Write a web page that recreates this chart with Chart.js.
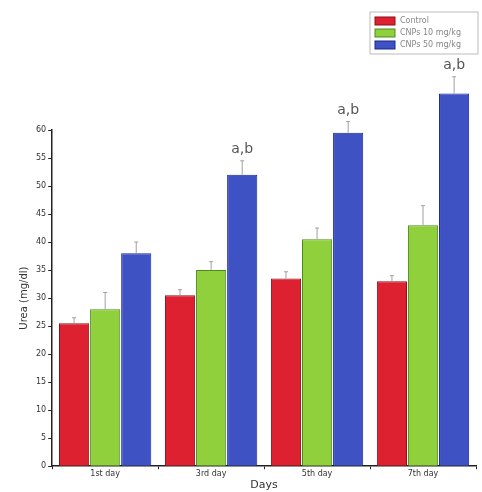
<!DOCTYPE html>
<html>
<head>
<meta charset="utf-8">
<script src="https://cdn.jsdelivr.net/npm/chart.js@4/dist/chart.umd.min.js"></script>
<style>
  html, body { margin: 0; padding: 0; background: #fff; }
  #wrap { width: 482px; height: 492px; }
</style>
</head>
<body>
<div id="wrap"><canvas id="myChart"></canvas></div>
<script>
const days = ['1st day', '3rd day', '5th day', '7th day'];
const control = [25.5, 30.5, 33.5, 33];
const fluid = [28, 35, 40.5, 43];
const fluidHigh = [38, 52, 59.5, 66.5];
const controlErr = [1, 1, 1.2, 1];
const fluidErr = [3, 1.5, 2, 3.5];
const fluidHighErr = [2, 2.5, 2, 3];
const sigMarks = ['', 'a,b', 'a,b', 'a,b'];
const yTicks = [0, 5, 10, 15, 20, 25, 30, 35, 40, 45, 50, 55, 60];

// error bars + significance letters, drawn on the library's scales
const extras = {
    id: 'extras',
    afterDatasetsDraw(chart) {
        const c = chart.ctx;
        const y = chart.scales.y;
        const errs = [controlErr, fluidErr, fluidHighErr];
        c.save();
        c.strokeStyle = '#a0a0a0';
        c.lineWidth = 1;
        chart.data.datasets.forEach((ds, i) => {
            chart.getDatasetMeta(i).data.forEach((bar, j) => {
                const top = y.getPixelForValue(ds.data[j] + errs[i][j]);
                c.beginPath();
                c.moveTo(bar.x, bar.y);
                c.lineTo(bar.x, top);
                c.moveTo(bar.x - 2, top);
                c.lineTo(bar.x + 2, top);
                c.stroke();
            });
        });
        c.fillStyle = '#555';
        c.font = '14px "DejaVu Sans"';
        c.textAlign = 'center';
        c.textBaseline = 'bottom';
        chart.getDatasetMeta(2).data.forEach((bar, j) => {
            if (!sigMarks[j]) return;
            const top = y.getPixelForValue(fluidHigh[j] + fluidHighErr[j]);
            c.fillText(sigMarks[j], bar.x, top - 4);
        });
        c.restore();
    }
};

// small boxed legend in the top right corner
const boxLegend = {
    id: 'boxLegend',
    afterDraw(chart) {
        const c = chart.ctx;
        const x0 = 370, y0 = 12, w = 108, h = 42;
        c.save();
        c.fillStyle = '#fff';
        c.strokeStyle = '#bbb';
        c.lineWidth = 1;
        c.fillRect(x0, y0, w, h);
        c.strokeRect(x0, y0, w, h);
        c.font = '8px "DejaVu Sans"';
        c.textBaseline = 'middle';
        chart.data.datasets.forEach((ds, i) => {
            const yy = y0 + 9 + i * 12;
            c.fillStyle = ds.backgroundColor;
            c.fillRect(x0 + 5, yy - 4, 20, 8);
            c.strokeStyle = ds.borderColor;
            c.strokeRect(x0 + 5, yy - 4, 20, 8);
            c.fillStyle = '#888';
            c.fillText(ds.label, x0 + 30, yy);
        });
        c.restore();
    }
};

const ctx = document.getElementById('myChart');
const myChart = new Chart(ctx, {
    type: 'bar',
    data: {
        labels: days,
        datasets: [
            { label: 'Control', data: control, backgroundColor: '#dd2130', borderColor: '#8a1018', borderWidth: 1, clip: false },
            { label: 'CNPs 10 mg/kg', data: fluid, backgroundColor: '#8fd03c', borderColor: '#4e8a1c', borderWidth: 1, clip: false },
            { label: 'CNPs 50 mg/kg', data: fluidHigh, backgroundColor: '#3e52c4', borderColor: '#1a2890', borderWidth: 1, clip: false }
        ]
    },
    options: {
        responsive: true,
        maintainAspectRatio: false,
        animation: false,
        categoryPercentage: 0.88,
        barPercentage: 0.97,
        layout: { padding: { top: 130, right: 6, left: 18, bottom: 0 } },
        plugins: {
            legend: { display: false },
            tooltip: { enabled: false }
        },
        scales: {
            x: {
                grid: { display: true, drawOnChartArea: false, color: '#222', tickLength: 3 },
                border: { color: '#222', width: 1.5 },
                ticks: { color: '#333', padding: 0, font: { size: 8, family: 'DejaVu Sans' } },
                title: { display: true, text: 'Days', color: '#333', font: { size: 11, family: 'DejaVu Sans' }, padding: 0 }
            },
            y: {
                min: 0,
                max: 60,
                afterBuildTicks(axis) { axis.ticks = yTicks.map(v => ({ value: v })); },
                grid: { display: true, drawOnChartArea: false, color: '#222', tickLength: 4 },
                border: { color: '#222', width: 1.5 },
                ticks: { color: '#333', padding: 2, font: { size: 8, family: 'DejaVu Sans' } },
                title: { display: true, text: 'Urea (mg/dl)', color: '#333', font: { size: 10, family: 'DejaVu Sans' }, padding: { top: 0, bottom: 4 } }
            }
        }
    },
    plugins: [extras, boxLegend]
});
</script>
</body>
</html>
